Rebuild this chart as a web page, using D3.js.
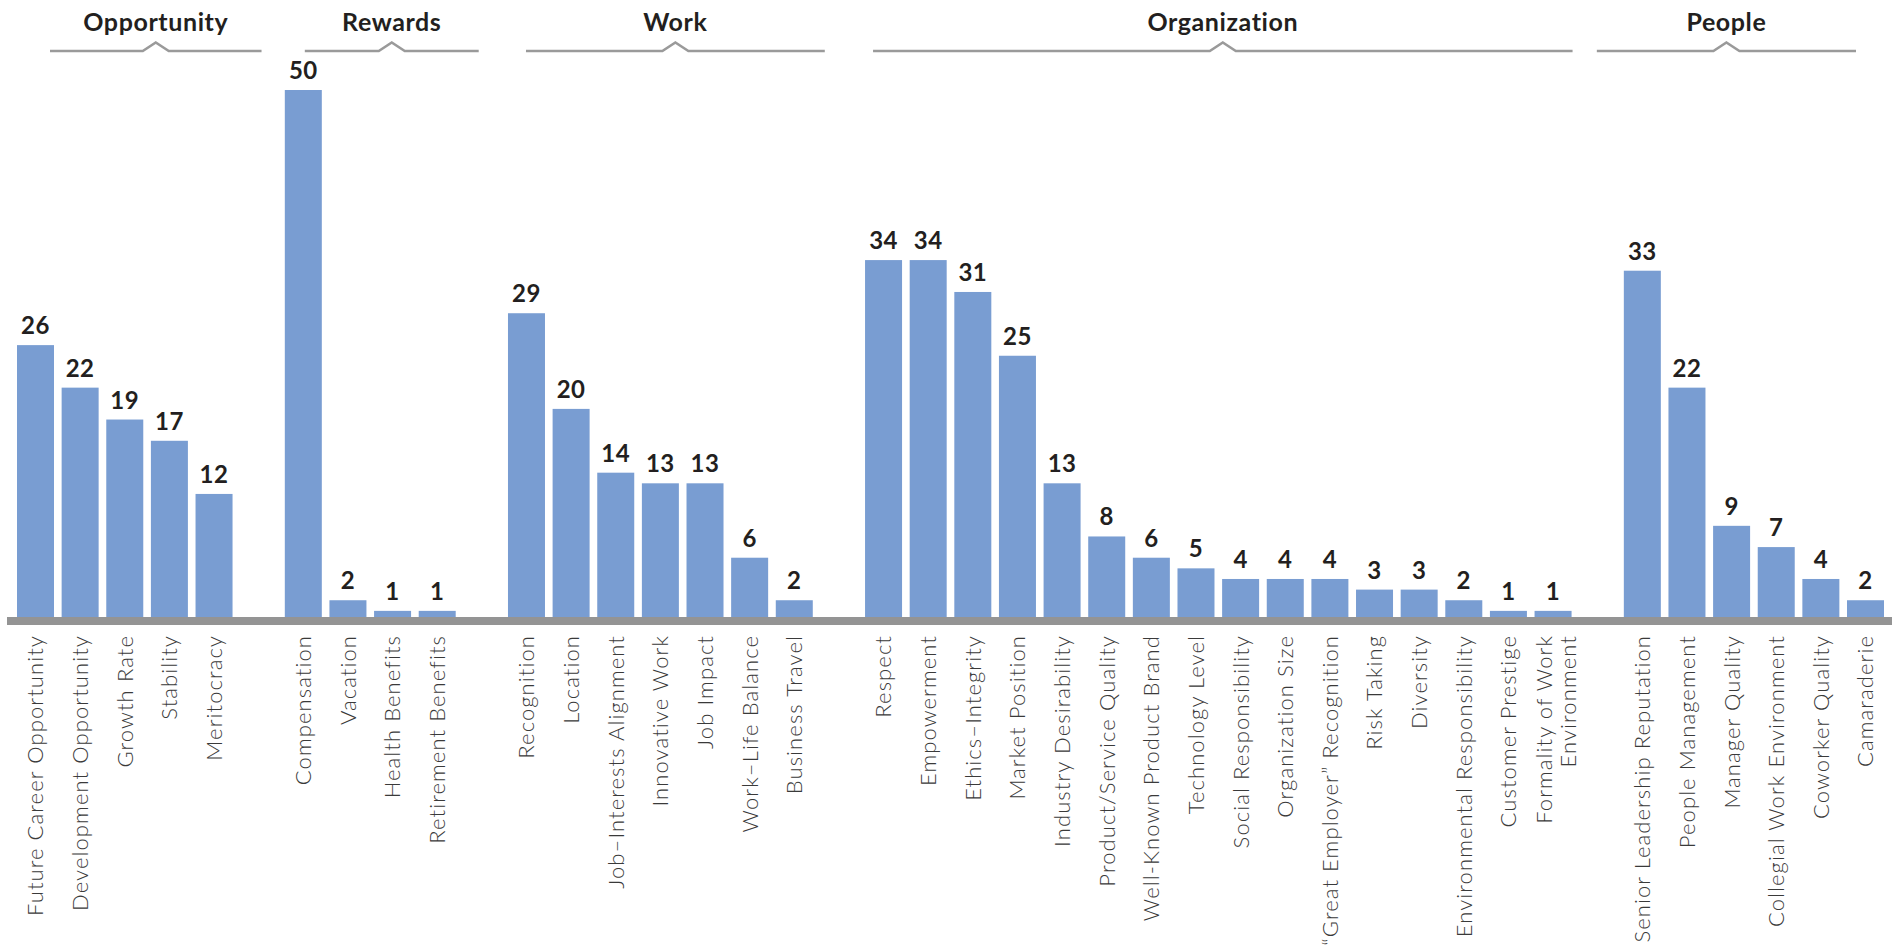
<!DOCTYPE html>
<html>
<head>
<meta charset="utf-8">
<script src="https://cdn.jsdelivr.net/npm/d3@7"></script>
<style>
  html, body { margin: 0; padding: 0; background: #fff; }
  svg { display: block; }
</style>
</head>
<body>
<svg id="chart" width="1896" height="945"></svg>
<script>
// Attribute groups, in display order
const groups = ["Opportunity", "Rewards", "Work", "Organization", "People"];

// Attributes per group ("\n" splits a label over two lines)
const opportunityItems = ["Future Career Opportunity", "Development Opportunity", "Growth Rate", "Stability", "Meritocracy"];
const rewardsItems = ["Compensation", "Vacation", "Health Benefits", "Retirement Benefits"];
const workItems = ["Recognition", "Location", "Job\u2013Interests Alignment", "Innovative Work", "Job Impact", "Work\u2013Life Balance", "Business Travel"];
const organizationItems = ["Respect", "Empowerment", "Ethics\u2013Integrity", "Market Position", "Industry Desirability", "Product/Service Quality", "Well-Known Product Brand", "Technology Level", "Social Responsibility", "Organization Size", "\u201CGreat Employer\u201D Recognition", "Risk Taking", "Diversity", "Environmental Responsibility", "Customer Prestige", "Formality of Work\nEnvironment"];
const peopleItems = ["Senior Leadership Reputation", "People Management", "Manager Quality", "Collegial Work Environment", "Coworker Quality", "Camaraderie"];

// Values per group
const opportunityValues = [26, 22, 19, 17, 12];
const rewardsValues = [50, 2, 1, 1];
const workValues = [29, 20, 14, 13, 13, 6, 2];
const organizationValues = [34, 34, 31, 25, 13, 8, 6, 5, 4, 4, 4, 3, 3, 2, 1, 1];
const peopleValues = [33, 22, 9, 7, 4, 2];

const itemsByGroup = [opportunityItems, rewardsItems, workItems, organizationItems, peopleItems];
const valuesByGroup = [opportunityValues, rewardsValues, workValues, organizationValues, peopleValues];

// Flattened records, plus one empty slot between consecutive groups
const records = [];
const slots = [];
groups.forEach((g, gi) => {
  itemsByGroup[gi].forEach((name, i) => {
    const key = g + "|" + name;
    records.push({ group: g, gi, name, value: valuesByGroup[gi][i], key });
    slots.push(key);
  });
  if (gi < groups.length - 1) slots.push("gap-" + gi);
});

// Bracket end adjustments (px) relative to each group's bar span
const bracketInset = [[33, 29], [20, 23], [18, 12], [8, 1], [-27, -28]];

const svg = d3.select("#chart");

const x = d3.scaleBand()
  .domain(slots)
  .range([17, 1884])
  .paddingInner(0.171)
  .paddingOuter(0);

const y = d3.scaleLinear()
  .domain([0, 50])
  .range([621.5, 90]);

const BAR = "#799dd2";
const FONT = "Lato, 'Open Sans', sans-serif";

// Bars
svg.append("g")
  .selectAll("rect")
  .data(records)
  .join("rect")
  .attr("x", d => x(d.key))
  .attr("y", d => y(d.value))
  .attr("width", x.bandwidth())
  .attr("height", d => y(0) - y(d.value))
  .attr("fill", BAR);

// Baseline band
svg.append("rect")
  .attr("x", 7)
  .attr("y", 617)
  .attr("width", 1885)
  .attr("height", 8)
  .attr("fill", "#949494");

// Value labels
svg.append("g")
  .selectAll("text")
  .data(records)
  .join("text")
  .attr("x", d => x(d.key) + x.bandwidth() / 2)
  .attr("y", d => y(d.value) - 11)
  .attr("text-anchor", "middle")
  .attr("font-family", FONT)
  .attr("font-size", 24)
  .attr("font-weight", 700)
  .attr("letter-spacing", 0.5)
  .attr("fill", "#231f20")
  .text(d => d.value);

// Rotated category labels
const cat = svg.append("g")
  .selectAll("text")
  .data(records)
  .join("text")
  .attr("transform", d => `translate(${x(d.key) + x.bandwidth() / 2},635) rotate(-90)`)
  .attr("text-anchor", "end")
  .attr("font-family", FONT)
  .attr("font-size", 22)
  .attr("font-weight", 300)
  .attr("letter-spacing", 1.1)
  .attr("fill", "#3a3a3a");

cat.each(function(d) {
  const lines = d.name.split("\n");
  const t = d3.select(this);
  lines.forEach((ln, i) => {
    const off = (i - (lines.length - 1) / 2) * 24 + (lines.length > 1 ? 3 : 0);
    t.append("tspan")
      .attr("x", 0)
      .attr("y", off)
      .attr("dy", "0.36em")
      .text(ln);
  });
});

// Group headers with caret brackets
const hdr = svg.append("g");
groups.forEach((g, gi) => {
  const keys = records.filter(r => r.gi === gi).map(r => r.key);
  const x0 = x(keys[0]) + bracketInset[gi][0];
  const x1 = x(keys[keys.length - 1]) + x.bandwidth() + bracketInset[gi][1];
  const c = (x0 + x1) / 2;
  const ly = 51;
  hdr.append("path")
    .attr("d", `M${x0},${ly}H${c - 13}L${c},${ly - 8.5}L${c + 13},${ly}H${x1}`)
    .attr("fill", "none")
    .attr("stroke", "#9a9a9a")
    .attr("stroke-width", 2.6);
  hdr.append("text")
    .attr("x", c)
    .attr("y", 31)
    .attr("text-anchor", "middle")
    .attr("font-family", FONT)
    .attr("font-size", 25)
    .attr("font-weight", 700)
    .attr("letter-spacing", 0.6)
    .attr("fill", "#231f20")
    .text(g);
});
</script>
</body>
</html>
